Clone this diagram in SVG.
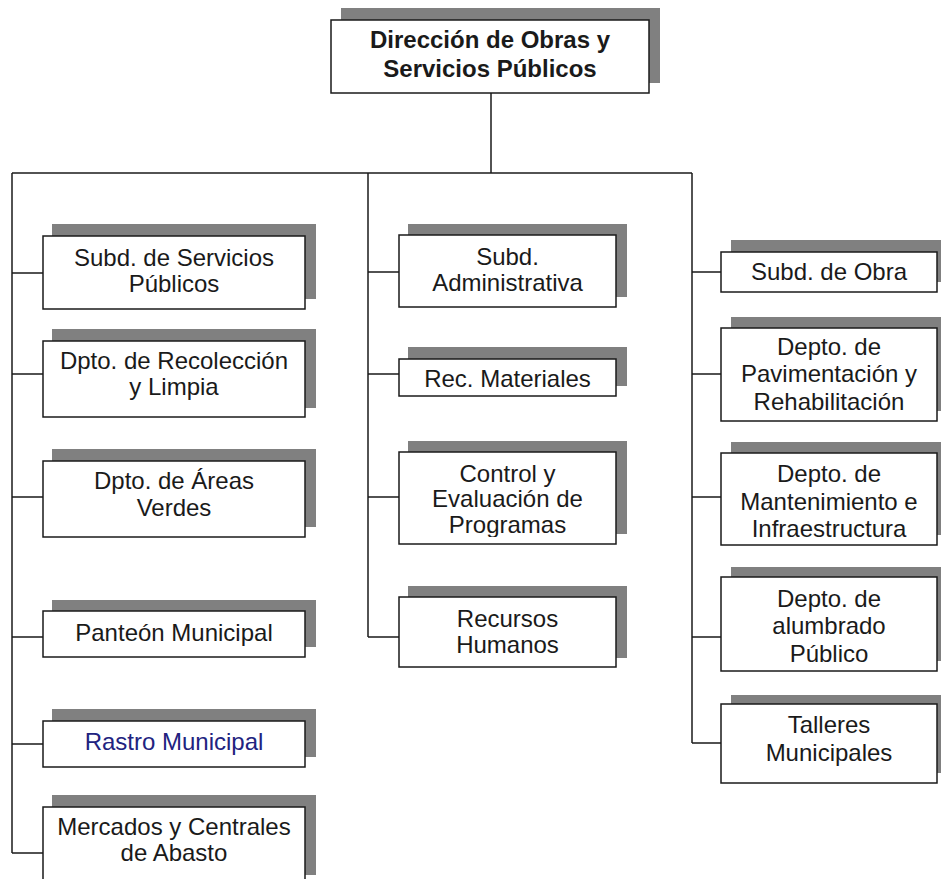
<svg xmlns="http://www.w3.org/2000/svg" width="941" height="879" viewBox="0 0 941 879">
<style>
  .sh { fill: #808080; }
  .bx { fill: #ffffff; stroke: #1a1a1a; stroke-width: 1.5; }
  .t { font-family: "Liberation Sans", Arial, sans-serif; font-size: 24px; fill: #1a1a1a; text-anchor: middle; }
  .tb { font-weight: bold; }
  .blue { fill: #22237f; }
  .ln { stroke: #1a1a1a; stroke-width: 1.5; fill: none; }
</style>
<defs>
  <clipPath id="clipCtrl"><rect x="399" y="452" width="217" height="85"/></clipPath>
</defs>
<rect width="941" height="879" fill="#ffffff"/>

<g id="connectors">
  <path class="ln" d="M491 93 V173"/>
  <path class="ln" d="M12 173 H692"/>
  <path class="ln" d="M12 173 V853"/>
  <path class="ln" d="M368 173 V637"/>
  <path class="ln" d="M692 173 V743"/>
  <path class="ln" d="M12 273 H43 M12 374 H43 M12 497 H43 M12 637 H43 M12 744 H43 M12 853 H43"/>
  <path class="ln" d="M368 272 H399 M368 374 H399 M368 497 H399 M368 637 H399"/>
  <path class="ln" d="M692 272 H721 M692 374 H721 M692 497 H721 M692 637 H721 M692 743 H721"/>
</g>

<g id="n-direccion">
  <rect class="sh" x="341" y="8" width="319" height="75"/>
  <rect class="bx" x="331" y="20" width="318" height="73"/>
  <text class="t tb" x="490" y="48">Dirección de Obras y</text>
  <text class="t tb" x="490" y="77">Servicios Públicos</text>
</g>

<g id="n-subd-servicios">
  <rect class="sh" x="52" y="224" width="264" height="75"/>
  <rect class="bx" x="43" y="236" width="262" height="73"/>
  <text class="t" x="174" y="266">Subd. de Servicios</text>
  <text class="t" x="174" y="292">Públicos</text>
</g>
<g id="n-recoleccion">
  <rect class="sh" x="52" y="329" width="264" height="79"/>
  <rect class="bx" x="43" y="341" width="262" height="76"/>
  <text class="t" x="174" y="369">Dpto. de Recolección</text>
  <text class="t" x="174" y="395">y Limpia</text>
</g>
<g id="n-areas-verdes">
  <rect class="sh" x="52" y="449" width="264" height="78"/>
  <rect class="bx" x="43" y="461" width="262" height="76"/>
  <text class="t" x="174" y="489">Dpto. de Áreas</text>
  <text class="t" x="174" y="516">Verdes</text>
</g>
<g id="n-panteon">
  <rect class="sh" x="52" y="600" width="264" height="47"/>
  <rect class="bx" x="43" y="611" width="262" height="46"/>
  <text class="t" x="174" y="641">Panteón Municipal</text>
</g>
<g id="n-rastro">
  <rect class="sh" x="52" y="709" width="264" height="48"/>
  <rect class="bx" x="43" y="721" width="262" height="46"/>
  <text class="t blue" x="174" y="750">Rastro Municipal</text>
</g>
<g id="n-mercados">
  <rect class="sh" x="52" y="795" width="264" height="80"/>
  <rect class="bx" x="43" y="807" width="262" height="80"/>
  <text class="t" x="174" y="835">Mercados y Centrales</text>
  <text class="t" x="174" y="861">de Abasto</text>
</g>

<g id="n-subd-admin">
  <rect class="sh" x="408" y="224" width="219" height="73"/>
  <rect class="bx" x="399" y="235" width="217" height="72"/>
  <text class="t" x="507.5" y="265">Subd.</text>
  <text class="t" x="507.5" y="291">Administrativa</text>
</g>
<g id="n-rec-materiales">
  <rect class="sh" x="408" y="347" width="219" height="39"/>
  <rect class="bx" x="399" y="359" width="217" height="37"/>
  <text class="t" x="507.5" y="387">Rec. Materiales</text>
</g>
<g id="n-control">
  <rect class="sh" x="408" y="441" width="219" height="93"/>
  <rect class="bx" x="399" y="452" width="217" height="92"/>
  <g clip-path="url(#clipCtrl)">
    <text class="t" x="507.5" y="482">Control y</text>
    <text class="t" x="507.5" y="507">Evaluación de</text>
    <text class="t" x="507.5" y="533">Programas</text>
  </g>
</g>
<g id="n-recursos">
  <rect class="sh" x="408" y="586" width="219" height="72"/>
  <rect class="bx" x="399" y="597" width="217" height="70"/>
  <text class="t" x="507.5" y="627">Recursos</text>
  <text class="t" x="507.5" y="653">Humanos</text>
</g>

<g id="n-subd-obra">
  <rect class="sh" x="731" y="240" width="218" height="42"/>
  <rect class="bx" x="721" y="252" width="216" height="40"/>
  <text class="t" x="829" y="280">Subd. de Obra</text>
</g>
<g id="n-pavimentacion">
  <rect class="sh" x="731" y="317" width="218" height="94"/>
  <rect class="bx" x="721" y="328" width="216" height="93"/>
  <text class="t" x="829" y="355">Depto. de</text>
  <text class="t" x="829" y="382">Pavimentación y</text>
  <text class="t" x="829" y="410">Rehabilitación</text>
</g>
<g id="n-mantenimiento">
  <rect class="sh" x="731" y="442" width="218" height="93"/>
  <rect class="bx" x="721" y="453" width="216" height="92"/>
  <text class="t" x="829" y="482">Depto. de</text>
  <text class="t" x="829" y="510">Mantenimiento e</text>
  <text class="t" x="829" y="537">Infraestructura</text>
</g>
<g id="n-alumbrado">
  <rect class="sh" x="731" y="567" width="218" height="94"/>
  <rect class="bx" x="721" y="577" width="216" height="94"/>
  <text class="t" x="829" y="607">Depto. de</text>
  <text class="t" x="829" y="634">alumbrado</text>
  <text class="t" x="829" y="662">Público</text>
</g>
<g id="n-talleres">
  <rect class="sh" x="731" y="695" width="218" height="78"/>
  <rect class="bx" x="721" y="704" width="216" height="79"/>
  <text class="t" x="829" y="733">Talleres</text>
  <text class="t" x="829" y="761">Municipales</text>
</g>
</svg>
